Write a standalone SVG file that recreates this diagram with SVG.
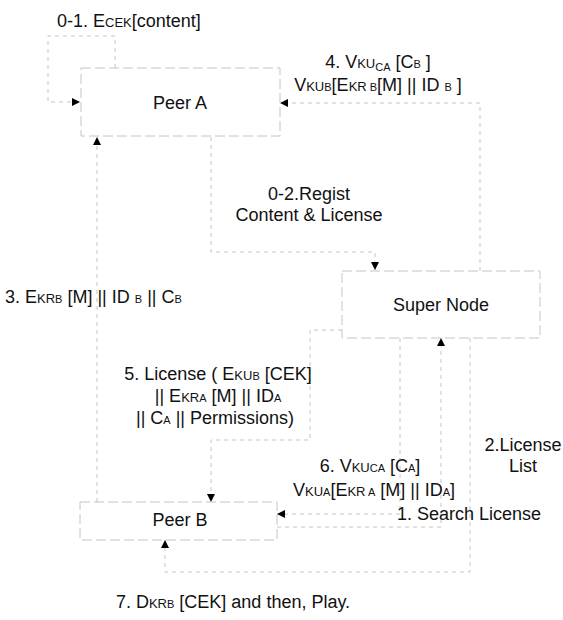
<svg xmlns="http://www.w3.org/2000/svg" width="563" height="620" viewBox="0 0 563 620">
<style>
text{font-family:"Liberation Sans",Arial,sans-serif;font-size:18px;fill:#111}
.m{text-anchor:middle}
.sc{font-size:13px}
.sb{font-size:11px}
.box{fill:none;stroke:#c4c4c4;stroke-width:1;stroke-dasharray:10 4}
.c{fill:none;stroke:#c4c4c4;stroke-width:1;stroke-dasharray:4 4}
</style>
<defs>
<marker id="ah" markerUnits="userSpaceOnUse" markerWidth="8" markerHeight="8" refX="8" refY="4" orient="auto">
<path d="M0,0 L8,4 L0,8 z" fill="#000"/>
</marker>
</defs>
<rect width="563" height="620" fill="#fff"/>
<g id="connectors">
<path class="c" d="M115,68 V36 H48 V102 H80" marker-end="url(#ah)"/>
<path class="c" d="M211,137 V252 H375 V270" marker-end="url(#ah)"/>
<path class="c" d="M97,502 V137" marker-end="url(#ah)"/>
<path class="c" d="M480,271 V103 H280" marker-end="url(#ah)"/>
<path class="c" d="M342,330 H310 V440 H211 V502" marker-end="url(#ah)"/>
<path class="c" d="M400,338 V514 H277" marker-end="url(#ah)"/>
<path class="c" d="M277,527 H441 V338" marker-end="url(#ah)"/>
<path class="c" d="M470,338 V572 H165 V540" marker-end="url(#ah)"/>
</g>
<g id="peerA">
<rect class="box" x="81" y="68" width="199" height="68"/>
<text class="m" x="180" y="109">Peer A</text>
</g>
<g id="superNode">
<rect class="box" x="342" y="271" width="198" height="67"/>
<text class="m" x="441" y="311">Super Node</text>
</g>
<g id="peerB">
<rect class="box" x="80" y="502" width="197" height="38"/>
<text class="m" x="180" y="526">Peer B</text>
</g>
<g id="labels">
<text x="57" y="27">0-1. E<tspan class="sc">CEK</tspan>[content]</text>
<text class="m" x="378" y="68">4. V<tspan class="sc">KU</tspan><tspan class="sb" dy="3">CA</tspan><tspan dy="-3"> [C</tspan><tspan class="sb">B</tspan> ]</text>
<text class="m" x="378" y="91">V<tspan class="sc">KU</tspan><tspan class="sb">B</tspan>[E<tspan class="sc">KR</tspan><tspan class="sb"> B</tspan>[M] || ID <tspan class="sb">B</tspan> ]</text>
<text class="m" x="309" y="200">0-2.Regist</text>
<text class="m" x="309" y="221">Content &amp; License</text>
<text x="5" y="303">3. E<tspan class="sc">KR</tspan><tspan class="sb">B</tspan> [M] || ID <tspan class="sb">B</tspan> || C<tspan class="sb">B</tspan></text>
<text class="m" x="218" y="380">5. License ( E<tspan class="sc">KU</tspan><tspan class="sb">B</tspan> [CEK]</text>
<text class="m" x="218" y="402">|| E<tspan class="sc">KR</tspan><tspan class="sb">A</tspan> [M] || ID<tspan class="sb">A</tspan></text>
<text class="m" x="215" y="424">|| C<tspan class="sb">A</tspan> || Permissions)</text>
<text class="m" x="523" y="451">2.License</text>
<text class="m" x="523" y="472">List</text>
<text class="m" x="370" y="472">6. V<tspan class="sc">KU</tspan><tspan class="sb">CA</tspan> [C<tspan class="sb">A</tspan>]</text>
<text class="m" x="374" y="496">V<tspan class="sc">KU</tspan><tspan class="sb">A</tspan>[E<tspan class="sc">KR</tspan><tspan class="sb"> A</tspan> [M] || ID<tspan class="sb">A</tspan>]</text>
<text x="397" y="520">1. Search License</text>
<text class="m" x="233" y="608">7. D<tspan class="sc">KR</tspan><tspan class="sb">B</tspan> [CEK] and then, Play.</text>
</g>
</svg>
